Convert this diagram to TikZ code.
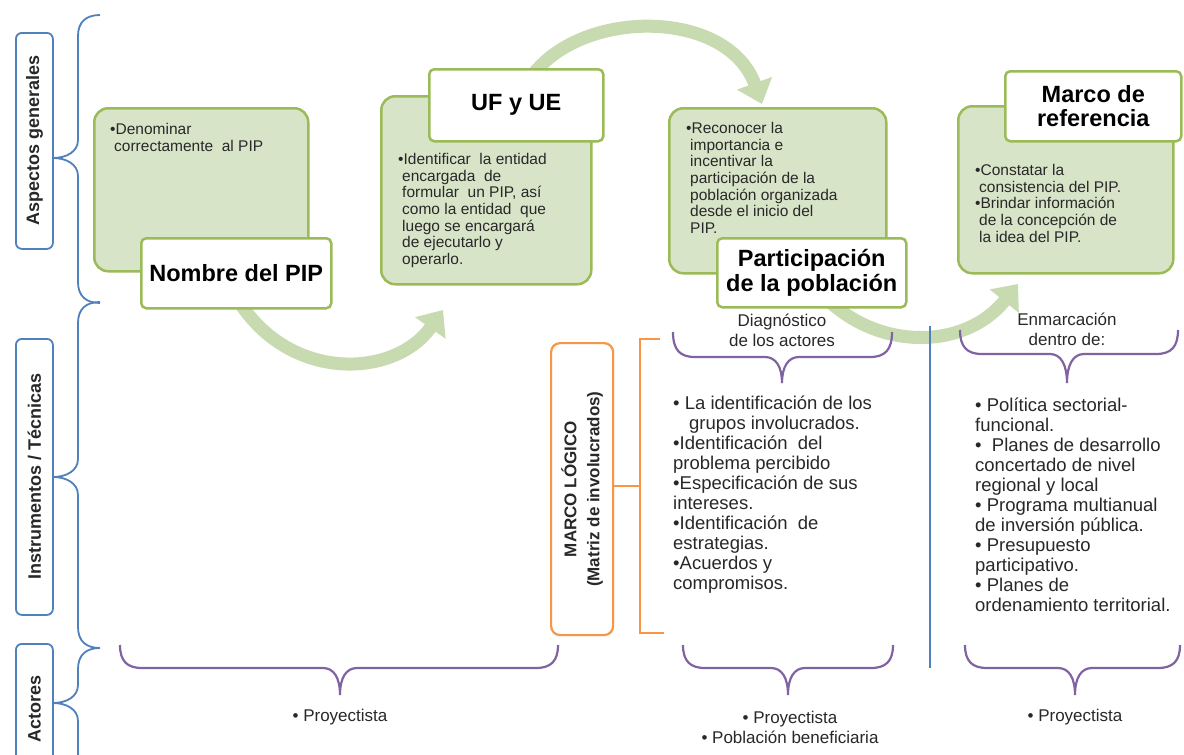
\documentclass[tikz,border=0pt]{standalone}
\usepackage{fontspec}
\setmainfont{Liberation Sans}
\usetikzlibrary{arrows.meta}
\definecolor{grn}{RGB}{155,187,89}
\definecolor{grnfill}{RGB}{216,228,200}
\definecolor{arrowgrn}{RGB}{200,218,176}
\definecolor{blu}{RGB}{79,129,189}
\definecolor{pur}{RGB}{128,100,162}
\definecolor{org}{RGB}{247,150,70}
\definecolor{txt}{RGB}{40,40,40}
\tikzset{
  content/.style={draw=grn, fill=grnfill, line width=2.5pt, rounded corners=14pt, anchor=north west, inner sep=0pt},
  titlebox/.style={draw=grn, fill=white, line width=2.5pt, rounded corners=5pt, anchor=north west, inner sep=0pt},
  sidebox/.style={draw=blu, fill=white, line width=1.8pt, rounded corners=6pt, anchor=north west, inner sep=0pt},
  sidetext/.style={rotate=90, font=\fontsize{18}{20}\selectfont\bfseries, text=txt},
  flow/.style={line width=13pt, draw=arrowgrn, -{Triangle[width=36pt,length=22pt]}},
  bracebl/.style={draw=blu, line width=1.8pt},
  bracepu/.style={draw=pur, line width=2.2pt},
  boxtext/.style={anchor=north west, align=left, inner sep=0pt, text=txt, font=\fontsize{15.5}{16.7}\selectfont},
  titletext/.style={align=center, inner sep=0pt, font=\fontsize{23.5}{24.5}\selectfont\bfseries},
  listtext/.style={anchor=north west, align=left, inner sep=0pt, text=txt, font=\fontsize{18.5}{20}\selectfont},
  labtext/.style={align=center, inner sep=0pt, text=txt, font=\fontsize{17}{20}\selectfont},
}
\begin{document}
\begin{tikzpicture}[x=1pt,y=-1pt]
\useasboundingbox (0,0) rectangle (1184,755);
\fill[white] (0,0) rectangle (1184,755);

% side labels
\node[sidebox, minimum width=37pt, minimum height=216pt] (sa) at (15,32) {};
\node[sidetext] (ta) at (sa.center) {Aspectos generales};
\node[sidebox, minimum width=37pt, minimum height=276pt] (si) at (15,338) {};
\node[sidetext] (ti) at (si.center) {Instrumentos / Técnicas};
\node[sidebox, minimum width=37pt, minimum height=120pt] (sc) at (15,643) {};
\node[sidetext] (tc) at ([yshift=-5pt]sc.center) {Actores};

% left braces
\draw[bracebl] (100,15) .. controls (86,15) and (78,22) .. (78,36) -- (78,140) .. controls (78,152) and (66,158) .. (53,158) .. controls (66,158) and (78,164) .. (78,176) -- (78,282) .. controls (78,296) and (86,303) .. (100,303);
\draw[bracebl] (100,302) .. controls (86,302) and (78,309) .. (78,323) -- (78,459) .. controls (78,471) and (66,477) .. (53,477) .. controls (66,477) and (78,483) .. (78,495) -- (78,627) .. controls (78,641) and (86,648) .. (100,648);
\draw[bracebl] (100,648) .. controls (86,648) and (78,655) .. (78,669) -- (78,685) .. controls (78,697) and (66,703) .. (53,703) .. controls (66,703) and (78,709) .. (78,721) -- (78,770);

% green flow arrows
\coordinate (a1s) at (238,300);
\coordinate (a1e) at (443,310);
\coordinate (a2s) at (535,72);
\coordinate (a2e) at (762,104);
\coordinate (a3s) at (828,300);
\coordinate (a3e) at (1018,284);
\draw[flow] (a1s) .. controls (290,383) and (395,378) .. (a1e);
\draw[flow] (a2s) .. controls (588,8) and (728,10) .. (a2e);
\draw[flow] (a3s) .. controls (880,350) and (965,350) .. (a3e);

% content boxes
\node[content, minimum width=214pt, minimum height=163pt] (c1) at (93,107) {};
\node[content, minimum width=210pt, minimum height=188pt] (c2) at (380,95) {};
\node[content, minimum width=217pt, minimum height=165pt] (c3) at (668,107) {};
\node[content, minimum width=215pt, minimum height=167pt] (c4) at (957,105) {};

\node[boxtext] (t1) at (110,123) {•Denominar\\\hspace*{4pt}correctamente\ \ al PIP};
\node[boxtext] (t2) at (398,153) {•Identificar\ \ la entidad\\\hspace*{4pt}encargada\ \ de\\\hspace*{4pt}formular\ \ un PIP, así\\\hspace*{4pt}como la entidad\ \ que\\\hspace*{4pt}luego se encargará\\\hspace*{4pt}de ejecutarlo y\\\hspace*{4pt}operarlo.};
\node[boxtext] (t3) at (686,122) {•Reconocer la\\\hspace*{4pt}importancia e\\\hspace*{4pt}incentivar la\\\hspace*{4pt}participación de la\\\hspace*{4pt}población organizada\\\hspace*{4pt}desde el inicio del\\\hspace*{4pt}PIP.};
\node[boxtext] (t4) at (975,164) {•Constatar la\\\hspace*{4pt}consistencia del PIP.\\•Brindar información\\\hspace*{4pt}de la concepción de\\\hspace*{4pt}la idea del PIP.};

% title boxes
\node[titlebox, minimum width=190pt, minimum height=70pt] (h1) at (140,237) {};
\node[titletext] (n1) at (h1.center) {Nombre del PIP};
\node[titlebox, minimum width=174pt, minimum height=72pt] (h2) at (428,68) {};
\node[titletext] (n2) at (h2.center) {UF y UE};
\node[titlebox, minimum width=189pt, minimum height=69pt] (h3) at (716,237) {};
\node[titletext] (n3) at (h3.center) {Participación\\de la población};
\node[titlebox, minimum width=176pt, minimum height=70pt] (h4) at (1004,70) {};
\node[titletext] (n4) at (h4.center) {Marco de\\referencia};

% blue divider
\coordinate (vt) at (930,326);
\coordinate (vb) at (930,668);
\draw[draw=blu, line width=2.2pt] (vt) -- (vb);

% marco logico
\node[draw=org, fill=white, line width=2.2pt, rounded corners=9pt, anchor=north west, inner sep=0pt, minimum width=62pt, minimum height=292pt] (ml) at (550,342) {};
\node[rotate=90, align=center, inner sep=0pt, text=txt, font=\fontsize{17}{23}\selectfont\bfseries] (mlt) at (ml.center) {MARCO LÓGICO\\(Matriz de involucrados)};
\coordinate (bj) at (640,486);
\draw[draw=org, line width=2.2pt] (ml.east |- bj) -- (bj);
\draw[draw=org, line width=2.2pt] (660,339) -- (640,339) -- (640,633) -- (664,633);

% upper purple braces
\node[labtext] (dg) at (782,330) {Diagnóstico\\de los actores};
\draw[bracepu] (673,332) .. controls (673,350) and (680,357) .. (695,357) -- (765,357) .. controls (776,357) and (782,367) .. (782,383) .. controls (782,367) and (788,357) .. (799,357) -- (870,357) .. controls (885,357) and (892,350) .. (892,332);
\node[labtext] (en) at (1067,329) {Enmarcación\\dentro de:};
\draw[bracepu] (960,330) .. controls (960,347) and (967,354) .. (982,354) -- (1050,354) .. controls (1061,354) and (1067,365) .. (1067,383) .. controls (1067,365) and (1073,354) .. (1084,354) -- (1156,354) .. controls (1171,354) and (1178,347) .. (1178,330);

% lists
\node[listtext] (l1) at (673,396) {• La identificación de los\\\hspace*{16pt}grupos involucrados.\\•Identificación\ \ del\\problema percibido\\•Especificación de sus\\intereses.\\•Identificación\ \ de\\estrategias.\\•Acuerdos y\\compromisos.};
\node[listtext] (l2) at (975,398) {• Política sectorial-\\funcional.\\•\ \ Planes de desarrollo\\concertado de nivel\\regional y local\\• Programa multianual\\de inversión pública.\\• Presupuesto\\participativo.\\• Planes de\\ordenamiento territorial.};

% bottom purple braces
\draw[bracepu] (120,645) .. controls (120,661) and (127,668) .. (142,668) -- (323,668) .. controls (334,668) and (340,678) .. (340,695) .. controls (340,678) and (346,668) .. (357,668) -- (536,668) .. controls (551,668) and (558,661) .. (558,645);
\draw[bracepu] (683,645) .. controls (683,661) and (690,668) .. (705,668) -- (771,668) .. controls (782,668) and (788,678) .. (788,695) .. controls (788,678) and (794,668) .. (805,668) -- (871,668) .. controls (886,668) and (893,661) .. (893,645);
\draw[bracepu] (965,645) .. controls (965,661) and (972,668) .. (987,668) -- (1058,668) .. controls (1069,668) and (1075,678) .. (1075,695) .. controls (1075,678) and (1081,668) .. (1092,668) -- (1158,668) .. controls (1173,668) and (1180,661) .. (1180,645);

\node[labtext] (p1) at (340,717) {• Proyectista};
\node[labtext] (p2) at (790,727) {• Proyectista\\• Población beneficiaria};
\node[labtext] (p3) at (1075,717) {• Proyectista};
\end{tikzpicture}
\end{document}
